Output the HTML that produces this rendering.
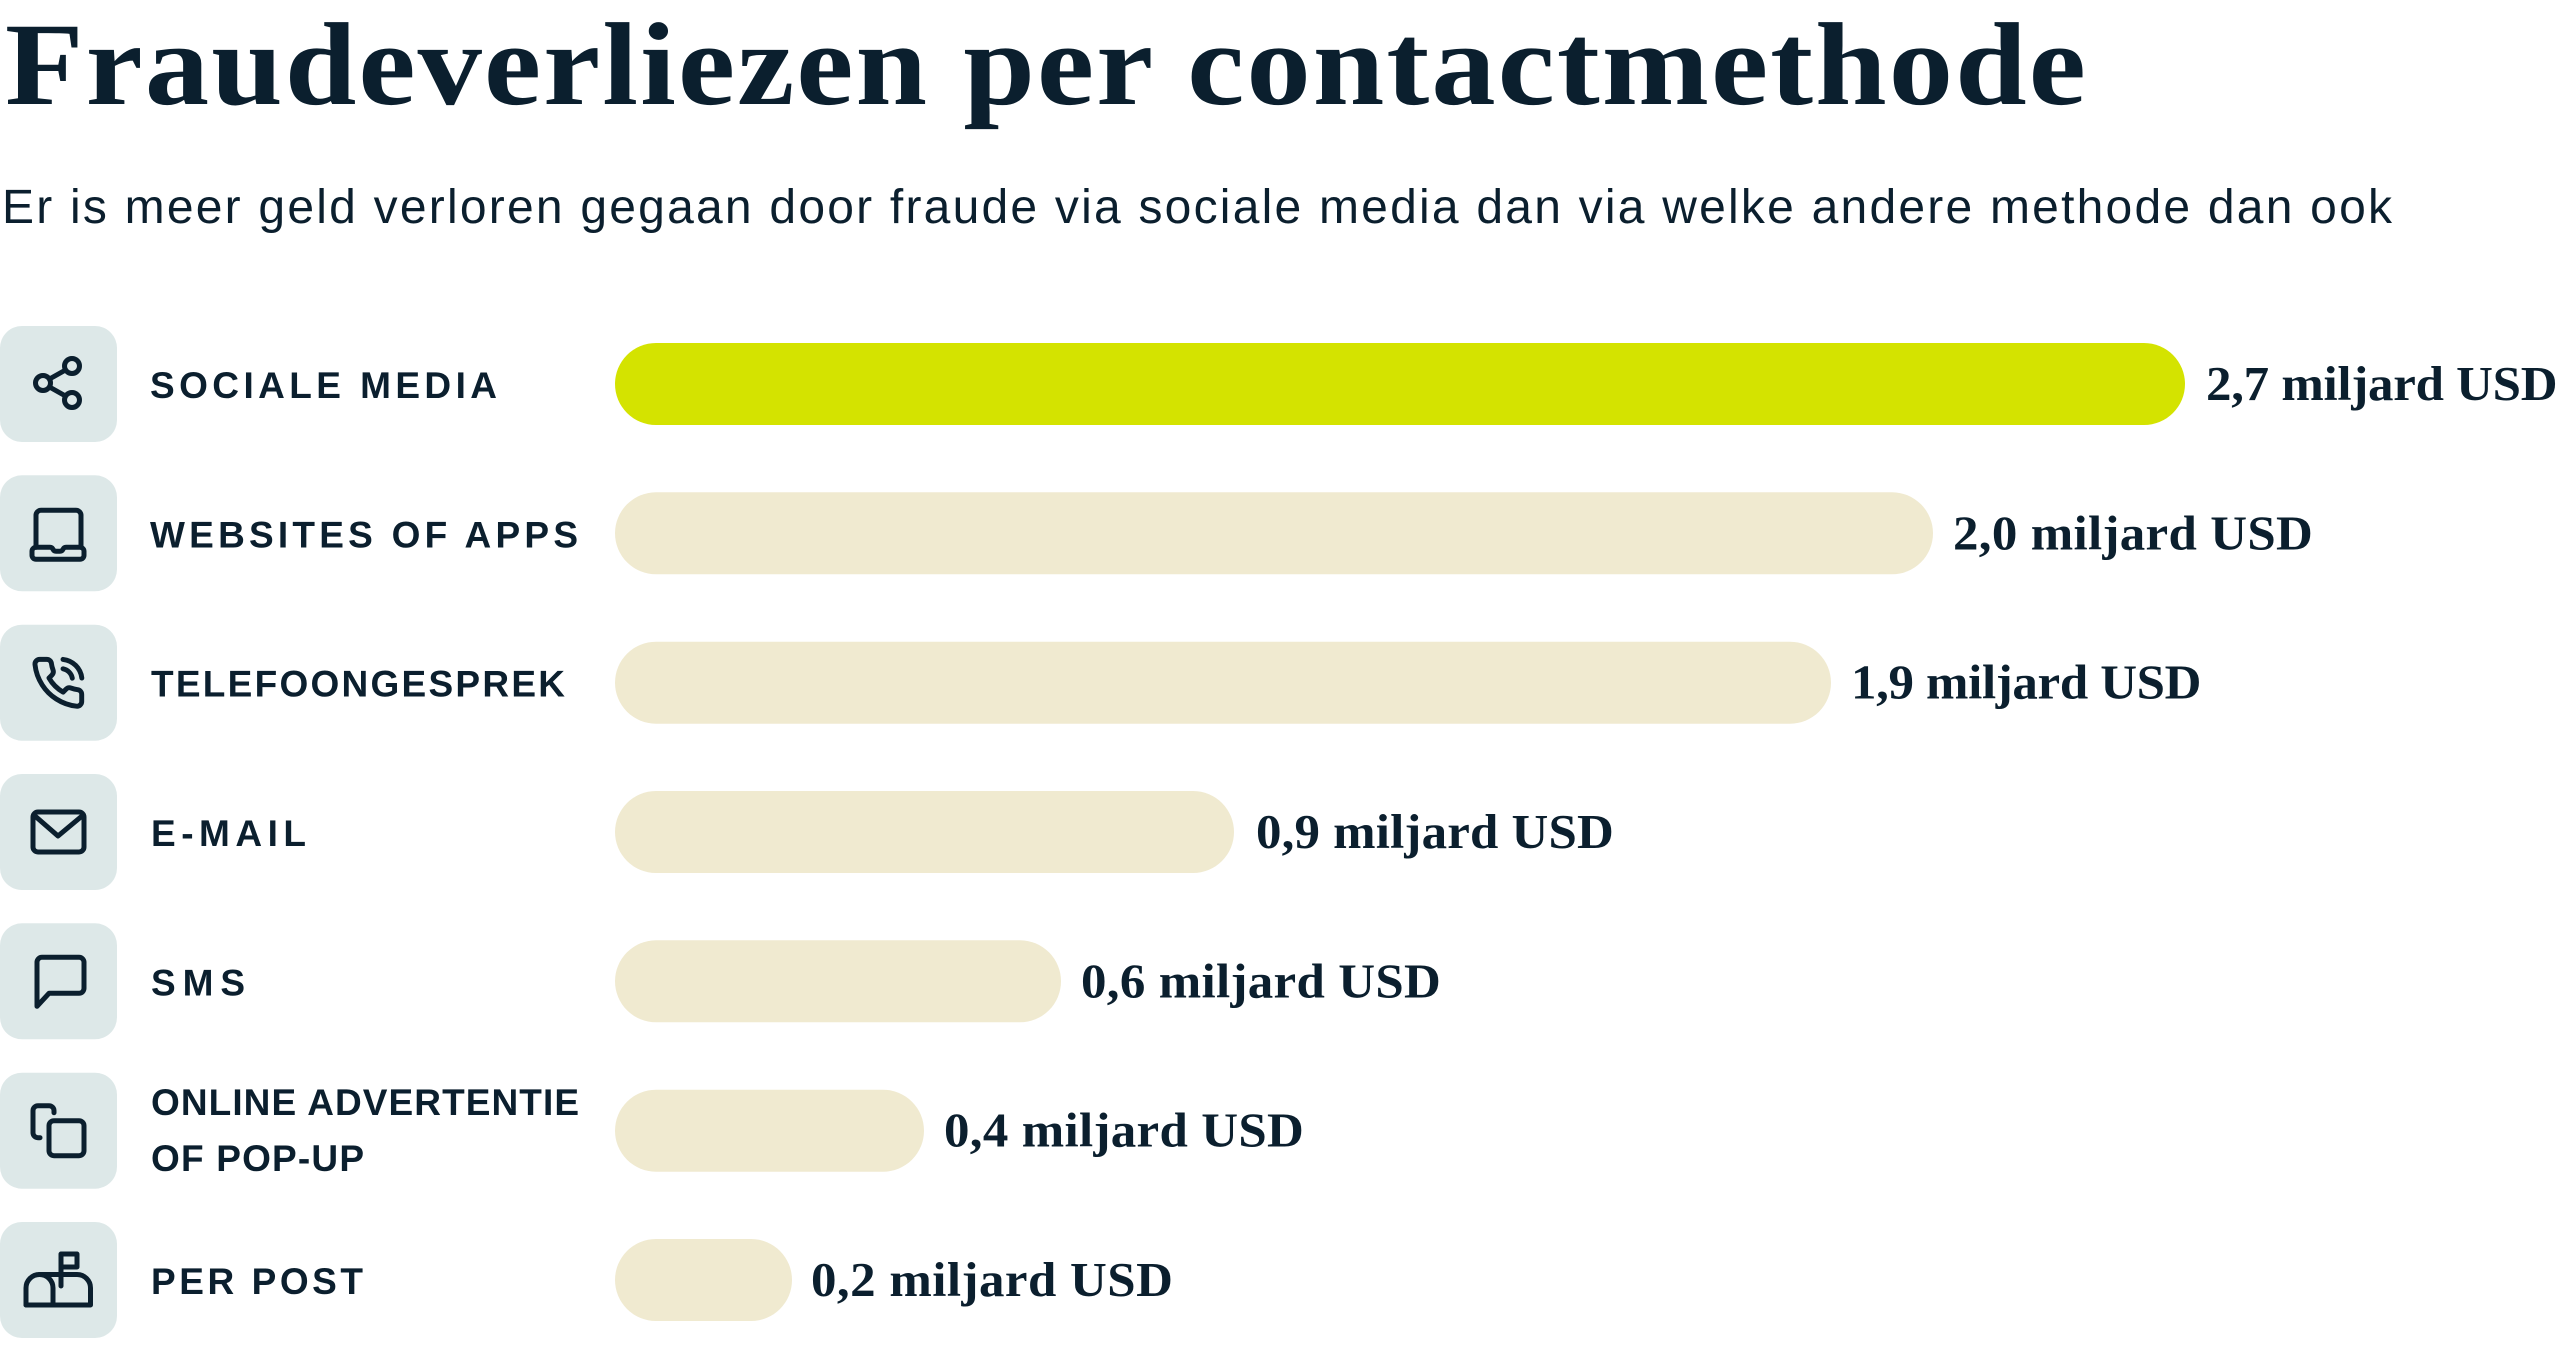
<!DOCTYPE html>
<html>
<head>
<meta charset="utf-8">
<style>
  html, body { margin: 0; padding: 0; background: #ffffff; }
  body { width: 2560px; height: 1363px; overflow: hidden; }
  svg { display: block; }
  .title { font-family: "Liberation Serif", serif; font-weight: bold; fill: #0b1f2e; }
  .sub { font-family: "Liberation Sans", sans-serif; fill: #0b1f2e; }
  .lbl { font-family: "Liberation Sans", sans-serif; font-weight: bold; fill: #0b1f2e; }
  .val { font-family: "Liberation Serif", serif; font-weight: bold; fill: #0b1f2e; }
  .box { fill: #dde8e8; }
  .ic { fill: none; stroke: #0b1f2e; stroke-width: 5; stroke-linecap: round; stroke-linejoin: round; }
</style>
</head>
<body>
<svg width="2560" height="1363" viewBox="0 0 2560 1363" xmlns="http://www.w3.org/2000/svg">
  <rect width="2560" height="1363" fill="#ffffff"/>

  <g transform="scale(1.09,1)">
    <text class="title" x="4.6" y="104" font-size="118" textLength="1909" lengthAdjust="spacing">Fraudeverliezen per contactmethode</text>
  </g>
  <text class="sub" x="2" y="223" font-size="48" textLength="2390" lengthAdjust="spacing">Er is meer geld verloren gegaan door fraude via sociale media dan via welke andere methode dan ook</text>

  <!-- Row 1: Sociale media (center 384) -->
  <g transform="translate(0,326)">
    <rect class="box" x="0" y="0" width="117" height="116" rx="22"/>
    <circle class="ic" cx="72" cy="40" r="7.5"/>
    <circle class="ic" cx="43" cy="57" r="7.5"/>
    <circle class="ic" cx="72" cy="74" r="7.5"/>
    <line class="ic" x1="49.5" y1="53" x2="65.5" y2="44"/>
    <line class="ic" x1="49.5" y1="61" x2="65.5" y2="70"/>
  </g>
  <text class="lbl" x="150" y="398" font-size="37" textLength="347" lengthAdjust="spacing">SOCIALE MEDIA</text>
  <rect x="615" y="343" width="1570" height="82" rx="41" fill="#d4e300"/>
  <g transform="translate(2206,400) scale(1.04,1)">
    <text class="val" x="0" y="0" font-size="49" textLength="338" lengthAdjust="spacing">2,7 miljard USD</text>
  </g>

  <!-- Row 2: Websites of apps (center 533.3) -->
  <g transform="translate(0,475.3)">
    <rect class="box" x="0" y="0" width="117" height="116" rx="22"/>
    <path class="ic" d="M36 72 V40 a5 5 0 0 1 5 -5 H76 a5 5 0 0 1 5 5 V72"/>
    <path class="ic" d="M32 76 a4 4 0 0 1 4 -4 H50 q2 0 3 2 q1 2 3 2 h4 q2 0 3 -2 q1 -2 3 -2 H80 a4 4 0 0 1 4 4 V80 a4 4 0 0 1 -4 4 H36 a4 4 0 0 1 -4 -4 Z"/>
  </g>
  <text class="lbl" x="150" y="547.3" font-size="37" textLength="428" lengthAdjust="spacing">WEBSITES OF APPS</text>
  <rect x="615" y="492.3" width="1318" height="82" rx="41" fill="#f0ead0"/>
  <g transform="translate(1953,549.3) scale(1.04,1)">
    <text class="val" x="0" y="0" font-size="49" textLength="346" lengthAdjust="spacing">2,0 miljard USD</text>
  </g>

  <!-- Row 3: Telefoongesprek (center 682.7) -->
  <g transform="translate(0,624.7)">
    <rect class="box" x="0" y="0" width="117" height="116" rx="22"/>
    <g transform="translate(30,30) scale(2.35)">
      <path fill="none" stroke="#0b1f2e" stroke-width="2.1" stroke-linecap="round" stroke-linejoin="round" d="M22 16.92v3a2 2 0 0 1-2.18 2 19.790 19.79 0 0 1-8.63-3.07 19.5 19.5 0 0 1-6-6 19.79 19.79 0 0 1-3.07-8.67A2 2 0 0 1 4.11 2h3a2 2 0 0 1 2 1.72 12.84 12.84 0 0 0 .7 2.81 2 2 0 0 1-.45 2.11L8.090 9.91a16 16 0 0 0 6 6l1.27-1.27a2 2 0 0 1 2.11-.45 12.84 12.84 0 0 0 2.81.7A2 2 0 0 1 22 16.92z"/>
      <path fill="none" stroke="#0b1f2e" stroke-width="2.1" stroke-linecap="round" d="M14.05 2a9 9 0 0 1 8 7.94"/>
      <path fill="none" stroke="#0b1f2e" stroke-width="2.1" stroke-linecap="round" d="M14.05 6A5 5 0 0 1 18 10"/>
    </g>
  </g>
  <text class="lbl" x="151" y="696.7" font-size="37" textLength="414" lengthAdjust="spacing">TELEFOONGESPREK</text>
  <rect x="615" y="641.7" width="1216" height="82" rx="41" fill="#f0ead0"/>
  <g transform="translate(1851,698.7) scale(1.04,1)">
    <text class="val" x="0" y="0" font-size="49" textLength="337" lengthAdjust="spacing">1,9 miljard USD</text>
  </g>

  <!-- Row 4: E-mail (center 832) -->
  <g transform="translate(0,774)">
    <rect class="box" x="0" y="0" width="117" height="116" rx="22"/>
    <rect class="ic" x="33" y="38" width="51" height="40" rx="5"/>
    <path class="ic" d="M35 42 L58 62 L82 42"/>
  </g>
  <text class="lbl" x="151" y="846" font-size="37" textLength="155" lengthAdjust="spacing">E-MAIL</text>
  <rect x="615" y="791" width="619" height="82" rx="41" fill="#f0ead0"/>
  <g transform="translate(1256,848) scale(1.04,1)">
    <text class="val" x="0" y="0" font-size="49" textLength="344" lengthAdjust="spacing">0,9 miljard USD</text>
  </g>

  <!-- Row 5: SMS (center 981.3) -->
  <g transform="translate(0,923.3)">
    <rect class="box" x="0" y="0" width="117" height="116" rx="22"/>
    <path class="ic" d="M37 83 V39 a5 5 0 0 1 5 -5 H79 a5 5 0 0 1 5 5 V65 a5 5 0 0 1 -5 5 H49 Z"/>
  </g>
  <text class="lbl" x="151" y="995.3" font-size="37" textLength="94" lengthAdjust="spacing">SMS</text>
  <rect x="615" y="940.3" width="446" height="82" rx="41" fill="#f0ead0"/>
  <g transform="translate(1081,997.3) scale(1.04,1)">
    <text class="val" x="0" y="0" font-size="49" textLength="346" lengthAdjust="spacing">0,6 miljard USD</text>
  </g>

  <!-- Row 6: Online advertentie of pop-up (center 1130.7) -->
  <g transform="translate(0,1072.7)">
    <rect class="box" x="0" y="0" width="117" height="116" rx="22"/>
    <path class="ic" d="M40 65 H38 a5 5 0 0 1 -5 -5 V38 a5 5 0 0 1 5 -5 H49 a5 5 0 0 1 5 5 V40"/>
    <rect class="ic" x="49" y="48" width="35" height="35" rx="5"/>
  </g>
  <text class="lbl" x="151" y="1115" font-size="37" textLength="428" lengthAdjust="spacing">ONLINE ADVERTENTIE</text>
  <text class="lbl" x="151" y="1171" font-size="37" textLength="213" lengthAdjust="spacing">OF POP-UP</text>
  <rect x="615" y="1089.7" width="309" height="82" rx="41" fill="#f0ead0"/>
  <g transform="translate(944,1146.7) scale(1.04,1)">
    <text class="val" x="0" y="0" font-size="49" textLength="346" lengthAdjust="spacing">0,4 miljard USD</text>
  </g>

  <!-- Row 7: Per post (center 1280) -->
  <g transform="translate(0,1222)">
    <rect class="box" x="0" y="0" width="117" height="116" rx="22"/>
    <path class="ic" d="M26 83 V66 a13.5 13.5 0 0 1 27 0 V83"/>
    <path class="ic" d="M39.5 52.5 H77 a13.5 13.5 0 0 1 13.5 13.5 V83 H26"/>
    <path class="ic" d="M61 64 V32 H77 V45 H61"/>
  </g>
  <text class="lbl" x="151" y="1294" font-size="37" textLength="212" lengthAdjust="spacing">PER POST</text>
  <rect x="615" y="1239" width="177" height="82" rx="41" fill="#f0ead0"/>
  <g transform="translate(811,1296) scale(1.04,1)">
    <text class="val" x="0" y="0" font-size="49" textLength="348" lengthAdjust="spacing">0,2 miljard USD</text>
  </g>
</svg>
</body>
</html>
